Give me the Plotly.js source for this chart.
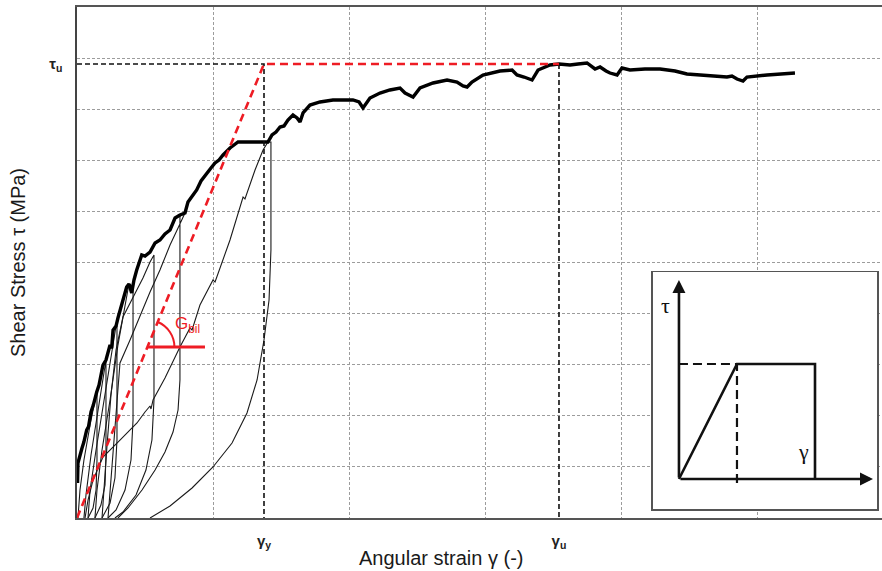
<!DOCTYPE html>
<html>
<head>
<meta charset="utf-8">
<script src="https://cdn.plot.ly/plotly-3.0.1.min.js"></script>
<style>
  html, body { margin: 0; padding: 0; background: #ffffff; }
  #chart { width: 882px; height: 571px; }
</style>
</head>
<body>
<div id="chart"></div>
<script>
// ---------- DATA (grid units: x 10 per grid cell, y 10 per grid cell) ----------
const tauU = 88.85;       // ultimate shear stress level
const gammaY = 13.75;     // yield strain
const gammaU = 35.44;     // ultimate strain

// Thick envelope curve
const envX = [0.04,0.07,0.37,0.50,0.71,0.85,1.03,1.20,1.45,1.62,1.91,2.13,2.43,2.55,2.65,2.87,3.01,3.29,3.46,3.65,3.82,4.02,4.19,4.39,4.76,5.00,5.37,5.59,5.74,6.10,6.47,6.84,7.21,7.57,7.94,8.16,8.46,8.80,9.12,9.54,9.85,10.15,10.44,10.74,11.25,11.84,12.72,13.60,14.04,14.34,14.63,14.93,15.22,15.51,15.88,16.18,16.40,16.62,17.13,17.87,18.82,20.29,20.74,21.03,21.25,21.54,22.28,23.01,23.75,24.12,24.71,25.22,26.18,27.21,27.94,28.38,28.68,29.04,29.85,31.10,31.99,32.35,32.87,33.46,33.90,34.78,35.44,36.25,36.84,37.50,38.09,38.46,38.90,39.19,39.71,40.07,40.66,41.76,42.87,43.97,44.85,45.81,46.32,47.28,47.79,48.16,48.53,48.97,49.26,50.74,51.69,52.79];
const envY = [6.85,10.76,13.70,14.80,17.22,17.90,20.74,22.10,24.66,26.03,29.94,30.92,33.86,33.20,36.79,37.57,39.14,42.07,43.25,45.21,45.79,44.03,46.58,48.53,51.47,51.27,52.05,53.03,53.82,54.40,55.58,56.36,58.71,59.30,59.69,61.84,63.01,64.19,65.95,67.51,68.49,69.47,70.06,71.04,72.41,73.58,73.58,73.58,73.58,74.95,75.54,76.52,76.71,77.89,78.86,78.28,77.50,79.26,80.82,81.41,81.80,81.80,81.41,80.23,81.02,82.19,83.17,83.76,84.15,83.17,82.39,84.15,85.13,85.71,85.32,84.54,84.34,85.32,86.69,87.48,87.67,86.69,86.30,85.71,87.67,88.65,88.85,88.65,88.85,89.04,87.87,88.26,87.48,87.08,86.69,88.06,87.67,87.87,87.87,87.48,86.89,86.69,86.69,86.50,86.30,86.50,85.91,85.52,86.30,86.69,86.89,87.08];

// Thin loading / unloading cycles
const cycle1X = [0.07,0.22,0.51,0.96,1.45,1.47,1.47,1.40,1.18,0.81];
const cycle1Y = [0,5.48,11.35,18.20,24.66,24.66,11.35,5.48,1.96,0];
const cycle2X = [0.51,0.66,1.03,1.54,2.13,2.13,2.06,1.76,1.32];
const cycle2Y = [0,4.50,12.33,21.13,30.92,12.33,6.46,2.54,0];
const cycle3X = [0.81,0.96,1.40,1.99,2.43,2.87,2.94,2.94,2.79,2.43,1.84];
const cycle3Y = [0,5.48,13.31,23.09,29.94,37.57,37.57,15.26,7.83,2.94,0];
const cycle4X = [1.32,1.47,1.84,2.43,3.01,3.46,3.82,4.12,4.12,3.97,3.53,2.87,2.28];
const cycle4Y = [0,5.48,13.31,23.09,33.85,40.70,45.79,45.40,19.18,11.35,5.48,1.57,0];
const cycle5X = [1.84,1.99,2.21,2.50,2.87,3.38,4.12,4.85,5.37,5.66,5.66,5.51,5.07,4.34,3.38,2.79];
const cycle5Y = [0,6.46,14.29,24.07,32.88,39.33,43.25,46.97,50.10,51.47,23.09,15.26,9.39,4.50,1.17,0];
const cycle6X = [2.28,2.43,2.65,2.87,3.16,3.90,4.63,5.37,6.10,6.84,7.43,7.94,7.57,7.57,7.43,7.06,6.47,5.74,4.78,3.75,3.01];
const cycle6Y = [0,5.48,13.31,21.13,30.33,34.83,39.53,44.23,48.53,53.42,56.75,59.69,59.10,27.01,21.13,16.83,12.92,9.39,5.48,1.96,0];
const cycle7X = [0.59,0.81,1.18,1.91,3.16,4.41,5.00,5.37,5.44,5.59,6.47,7.57,8.31,8.46,9.04,10.00,10.15,11.25,12.21,12.35,13.09,13.68,14.04,14.26,14.26,14.12,13.75,13.24,12.50,11.40,10.00,8.46,6.84,5.37];
const cycle7Y = [0,3.52,7.44,11.94,15.26,18.59,20.74,21.92,21.33,23.09,27.40,33.46,37.18,36.79,41.68,46.58,46.18,54.40,62.82,62.43,68.10,72.02,73.58,73.58,52.45,42.66,34.83,27.01,20.55,14.68,9.98,5.87,2.35,0];

// Bilinear idealisation
const bilinearX = [0, gammaY, gammaU];
const bilinearY = [0, tauU, tauU];

// G_bil marker line
const gbilX = [5.18, 9.41];
const gbilY = [33.46, 33.46];

// Tick labels
const xTickVals = [gammaY, gammaU];
const xTickText = ['γ<sub>y</sub>', 'γ<sub>u</sub>'];
const yTickVals = [tauU];
const yTickText = ['τ<sub>u</sub>'];

// Inset (idealised law)
const insetX = [0, 1, 2.345, 2.345];
const insetY = [0, 1, 1, 0];
const insetDashX = [0, 1, 1];
const insetDashY = [1, 1, -0.035];

// ---------- TRACES ----------
const thin = {color: '#1a1a1a', width: 1.1};
const cycles = [[cycle1X,cycle1Y],[cycle2X,cycle2Y],[cycle3X,cycle3Y],[cycle4X,cycle4Y],
                [cycle5X,cycle5Y],[cycle6X,cycle6Y],[cycle7X,cycle7Y]];
const traces = cycles.map(c => ({x: c[0], y: c[1], type: 'scatter', mode: 'lines',
  line: thin, hoverinfo: 'skip'}));

traces.push({x: envX, y: envY, type: 'scatter', mode: 'lines',
  line: {color: '#000', width: 3.4}, hoverinfo: 'skip'});

// black dashed reference lines
traces.push({x: [0, gammaY, gammaY], y: [tauU, tauU, 0], type: 'scatter', mode: 'lines',
  line: {color: '#111', width: 1.6, dash: '5px,3px'}, hoverinfo: 'skip'});
traces.push({x: [gammaU, gammaU], y: [tauU, 0], type: 'scatter', mode: 'lines',
  line: {color: '#111', width: 1.6, dash: '5px,3px'}, hoverinfo: 'skip'});

// red bilinear
traces.push({x: bilinearX, y: bilinearY, type: 'scatter', mode: 'lines',
  line: {color: '#ee1c24', width: 2.6, dash: '8px,5px'}, hoverinfo: 'skip'});
traces.push({x: gbilX, y: gbilY, type: 'scatter', mode: 'lines',
  line: {color: '#ee1c24', width: 3}, hoverinfo: 'skip'});

// inset
traces.push({x: insetX, y: insetY, xaxis: 'x2', yaxis: 'y2', type: 'scatter', mode: 'lines',
  line: {color: '#111', width: 2.6}, hoverinfo: 'skip'});
traces.push({x: insetDashX, y: insetDashY, xaxis: 'x2', yaxis: 'y2', type: 'scatter', mode: 'lines',
  line: {color: '#111', width: 2.2, dash: '9px,5px'}, hoverinfo: 'skip'});

const gridStyle = {dtick: 10, tick0: 0, showgrid: true, gridcolor: '#9c9c9c', gridwidth: 1,
  griddash: '3px,2px', ticks: ''};

const layout = {
  width: 882, height: 571,
  margin: {l: 77, r: 0, t: 7, b: 53},
  paper_bgcolor: '#ffffff', plot_bgcolor: '#ffffff',
  showlegend: false,
  font: {family: 'Liberation Sans, Arial, sans-serif', color: '#222'},
  xaxis: {
    range: [0, 59.19], showgrid: false, zeroline: false,
    tickmode: 'array', tickvals: xTickVals, ticktext: xTickText,
    ticks: '', ticklabelstandoff: 8,
    tickfont: {size: 15, color: '#222', weight: 'bold'},
    minor: gridStyle,
    showline: true, mirror: true, linecolor: '#555', linewidth: 1.6,
    fixedrange: true
  },
  yaxis: {
    range: [0, 100], showgrid: false, zeroline: false,
    tickmode: 'array', tickvals: yTickVals, ticktext: yTickText,
    ticks: '', ticklabelstandoff: 10,
    tickfont: {size: 15, color: '#222', weight: 'bold'},
    minor: gridStyle,
    showline: true, linecolor: '#444', linewidth: 1.6,
    title: {text: 'Shear Stress τ (MPa)', font: {size: 20, color: '#1a1a1a'}, standoff: 18},
    fixedrange: true
  },
  xaxis2: {
    domain: [0.7155, 0.9938], anchor: 'y2', range: [-0.448, 3.414],
    showgrid: false, zeroline: false, showticklabels: false, ticks: '',
    showline: true, mirror: true, linecolor: '#555', linewidth: 1.5, fixedrange: true
  },
  yaxis2: {
    domain: [0.0176, 0.4814], anchor: 'x2', range: [-0.261, 1.8],
    showgrid: false, zeroline: false, showticklabels: false, ticks: '',
    showline: true, mirror: true, linecolor: '#555', linewidth: 1.5, fixedrange: true
  },
  shapes: [{
    type: 'path', xref: 'x', yref: 'y', xsizemode: 'pixel', ysizemode: 'pixel',
    xanchor: gbilX[0], yanchor: gbilY[0],
    path: 'M10.3,25 C20.4,20.8 27,10.9 27,0',
    line: {color: '#ee1c24', width: 2}
  }],
  annotations: [
    {xref: 'paper', yref: 'paper', x: 0.453, y: -0.078, xanchor: 'center', yanchor: 'middle',
     text: 'Angular strain γ (-)', showarrow: false, font: {size: 20, color: '#1a1a1a'}},
    {xref: 'x', yref: 'y', x: 8.1, y: 37.8, text: 'G<sub>bil</sub>', showarrow: false,
     font: {size: 17, color: '#ee1c24'}},
    // inset axes arrows
    {xref: 'x2', yref: 'y2', axref: 'x2', ayref: 'y2', x: 3.345, y: 0, ax: 0, ay: 0,
     text: '', showarrow: true, arrowhead: 2, arrowsize: 1, arrowwidth: 2.6, arrowcolor: '#111',
     standoff: 0, startstandoff: 0},
    {xref: 'x2', yref: 'y2', axref: 'x2', ayref: 'y2', x: 0, y: 1.73, ax: 0, ay: 0,
     text: '', showarrow: true, arrowhead: 2, arrowsize: 1, arrowwidth: 2.6, arrowcolor: '#111',
     standoff: 0, startstandoff: 0},
    {xref: 'x2', yref: 'y2', x: -0.24, y: 1.51, text: 'τ', showarrow: false,
     font: {family: 'Liberation Serif, Times New Roman, serif', size: 22, color: '#111'}},
    {xref: 'x2', yref: 'y2', x: 2.14, y: 0.235, text: 'γ', showarrow: false,
     font: {family: 'Liberation Serif, Times New Roman, serif', size: 22, color: '#111'}}
  ]
};

Plotly.newPlot('chart', traces, layout, {staticPlot: true, displayModeBar: false});
</script>
</body>
</html>
